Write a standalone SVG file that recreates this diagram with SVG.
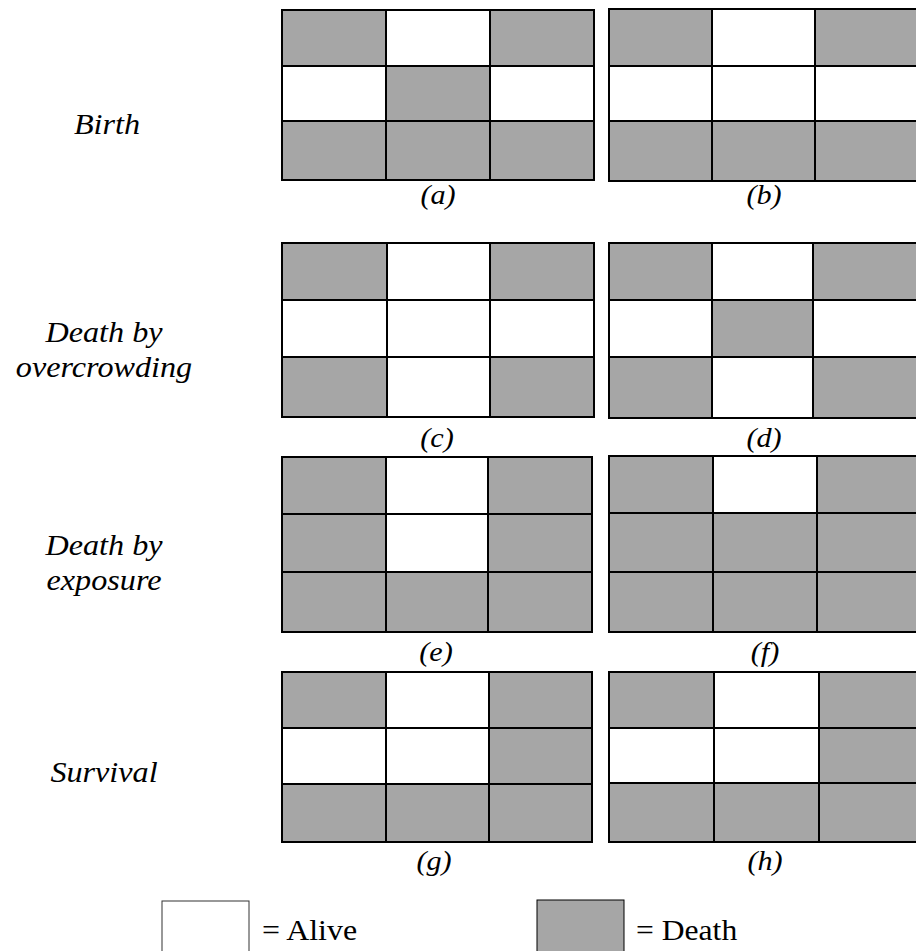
<svg xmlns="http://www.w3.org/2000/svg" width="916" height="951" viewBox="0 0 916 951">
<style>
.d{fill:#a6a6a6;stroke:#000;stroke-width:2}
.a{fill:#fff;stroke:#000;stroke-width:2}
.lbl{font-family:"Liberation Serif","Times New Roman",serif;font-style:italic;font-size:27px;fill:#000;text-anchor:middle}
.side{font-family:"Liberation Serif","Times New Roman",serif;font-style:italic;font-size:29px;fill:#000;text-anchor:middle}
.leg{font-family:"Liberation Serif","Times New Roman",serif;font-size:29px;fill:#000}
</style>
<rect width="916" height="951" fill="#fff"/>
<g id="side-labels">
<text class="side" transform="translate(107,134) scale(1.11,1)">Birth</text>
<text class="side" transform="translate(104,342) scale(1.11,1)">Death by</text>
<text class="side" transform="translate(104,377) scale(1.11,1)">overcrowding</text>
<text class="side" transform="translate(104,555) scale(1.11,1)">Death by</text>
<text class="side" transform="translate(104,590) scale(1.11,1)">exposure</text>
<text class="side" transform="translate(104,782) scale(1.11,1)">Survival</text>
</g>
<g id="grid-a">
<rect class="d" x="282" y="10" width="104" height="56"/><rect class="a" x="386" y="10" width="104" height="56"/><rect class="d" x="490" y="10" width="104" height="56"/>
<rect class="a" x="282" y="66" width="104" height="55"/><rect class="d" x="386" y="66" width="104" height="55"/><rect class="a" x="490" y="66" width="104" height="55"/>
<rect class="d" x="282" y="121" width="104" height="59"/><rect class="d" x="386" y="121" width="104" height="59"/><rect class="d" x="490" y="121" width="104" height="59"/>
<text class="lbl" transform="translate(438,204) scale(1.12,1)">(a)</text>
</g>
<g id="grid-b">
<rect class="d" x="609" y="9" width="103" height="57"/><rect class="a" x="712" y="9" width="103" height="57"/><rect class="d" x="815" y="9" width="105" height="57"/>
<rect class="a" x="609" y="66" width="103" height="55"/><rect class="a" x="712" y="66" width="103" height="55"/><rect class="a" x="815" y="66" width="105" height="55"/>
<rect class="d" x="609" y="121" width="103" height="60"/><rect class="d" x="712" y="121" width="103" height="60"/><rect class="d" x="815" y="121" width="105" height="60"/>
<text class="lbl" transform="translate(764,204) scale(1.12,1)">(b)</text>
</g>
<g id="grid-c">
<rect class="d" x="282" y="243" width="105" height="57"/><rect class="a" x="387" y="243" width="103" height="57"/><rect class="d" x="490" y="243" width="104" height="57"/>
<rect class="a" x="282" y="300" width="105" height="57"/><rect class="a" x="387" y="300" width="103" height="57"/><rect class="a" x="490" y="300" width="104" height="57"/>
<rect class="d" x="282" y="357" width="105" height="60"/><rect class="a" x="387" y="357" width="103" height="60"/><rect class="d" x="490" y="357" width="104" height="60"/>
<text class="lbl" transform="translate(437,447) scale(1.12,1)">(c)</text>
</g>
<g id="grid-d">
<rect class="d" x="609" y="243" width="103" height="57"/><rect class="a" x="712" y="243" width="101" height="57"/><rect class="d" x="813" y="243" width="107" height="57"/>
<rect class="a" x="609" y="300" width="103" height="57"/><rect class="d" x="712" y="300" width="101" height="57"/><rect class="a" x="813" y="300" width="107" height="57"/>
<rect class="d" x="609" y="357" width="103" height="61"/><rect class="a" x="712" y="357" width="101" height="61"/><rect class="d" x="813" y="357" width="107" height="61"/>
<text class="lbl" transform="translate(764,447) scale(1.12,1)">(d)</text>
</g>
<g id="grid-e">
<rect class="d" x="282" y="457" width="104" height="57"/><rect class="a" x="386" y="457" width="102" height="57"/><rect class="d" x="488" y="457" width="104" height="57"/>
<rect class="d" x="282" y="514" width="104" height="58"/><rect class="a" x="386" y="514" width="102" height="58"/><rect class="d" x="488" y="514" width="104" height="58"/>
<rect class="d" x="282" y="572" width="104" height="60"/><rect class="d" x="386" y="572" width="102" height="60"/><rect class="d" x="488" y="572" width="104" height="60"/>
<text class="lbl" transform="translate(436,661) scale(1.12,1)">(e)</text>
</g>
<g id="grid-f">
<rect class="d" x="609" y="456" width="104" height="57"/><rect class="a" x="713" y="456" width="104" height="57"/><rect class="d" x="817" y="456" width="103" height="57"/>
<rect class="d" x="609" y="513" width="104" height="59"/><rect class="d" x="713" y="513" width="104" height="59"/><rect class="d" x="817" y="513" width="103" height="59"/>
<rect class="d" x="609" y="572" width="104" height="60"/><rect class="d" x="713" y="572" width="104" height="60"/><rect class="d" x="817" y="572" width="103" height="60"/>
<text class="lbl" transform="translate(765,661) scale(1.12,1)">(f)</text>
</g>
<g id="grid-g">
<rect class="d" x="282" y="672" width="104" height="56"/><rect class="a" x="386" y="672" width="103" height="56"/><rect class="d" x="489" y="672" width="103" height="56"/>
<rect class="a" x="282" y="728" width="104" height="56"/><rect class="a" x="386" y="728" width="103" height="56"/><rect class="d" x="489" y="728" width="103" height="56"/>
<rect class="d" x="282" y="784" width="104" height="58"/><rect class="d" x="386" y="784" width="103" height="58"/><rect class="d" x="489" y="784" width="103" height="58"/>
<text class="lbl" transform="translate(434,870) scale(1.12,1)">(g)</text>
</g>
<g id="grid-h">
<rect class="d" x="609" y="672" width="105" height="56"/><rect class="a" x="714" y="672" width="105" height="56"/><rect class="d" x="819" y="672" width="101" height="56"/>
<rect class="a" x="609" y="728" width="105" height="55"/><rect class="a" x="714" y="728" width="105" height="55"/><rect class="d" x="819" y="728" width="101" height="55"/>
<rect class="d" x="609" y="783" width="105" height="59"/><rect class="d" x="714" y="783" width="105" height="59"/><rect class="d" x="819" y="783" width="101" height="59"/>
<text class="lbl" transform="translate(765,870) scale(1.12,1)">(h)</text>
</g>
<g id="legend-alive">
<rect x="162" y="901" width="87" height="60" fill="#fff" stroke="#333" stroke-width="1"/>
<text class="leg" transform="translate(262,940) scale(1.1,1)">= Alive</text>
</g>
<g id="legend-death">
<rect x="537" y="900" width="87" height="60" fill="#a6a6a6" stroke="#000" stroke-width="1"/>
<text class="leg" transform="translate(636,940) scale(1.09,1)">= Death</text>
</g>
</svg>
